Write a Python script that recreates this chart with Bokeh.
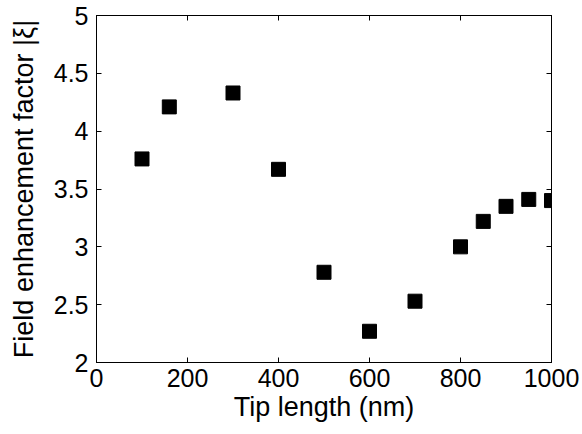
from bokeh.plotting import figure
from bokeh.models import LinearAxis, FixedTicker, Range1d
from bokeh.embed import file_html
from bokeh.resources import INLINE

tip_length = [100, 160, 300, 400, 500, 600, 700, 800, 850, 900, 950, 1000]
enhancement = [3.76, 4.21, 4.33, 3.67, 2.78, 2.27, 2.53, 3.00, 3.22, 3.35, 3.41, 3.40]

x_ticks = [0, 200, 400, 600, 800, 1000]
y_ticks = [2, 2.5, 3, 3.5, 4, 4.5, 5]
y_tick_labels = ["2", "2.5", "3", "3.5", "4", "4.5", "5"]

FONT = "Liberation Sans"

p = figure(frame_width=455, frame_height=347, output_backend="svg", toolbar_location=None,
           x_range=Range1d(0, 1000), y_range=Range1d(2, 5),
           x_axis_location=None, y_axis_location=None,
           min_border_left=96, min_border_top=15, min_border_right=31, min_border_bottom=72)
p.xgrid.visible = False
p.ygrid.visible = False
p.outline_line_color = "black"
p.outline_line_width = 1
p.background_fill_color = "white"
p.border_fill_color = "white"

overrides = {t: l for t, l in zip(y_ticks, y_tick_labels)}

def style(ax, labels=True):
    ax.major_tick_in = 5
    ax.major_tick_out = 0
    ax.minor_tick_in = 0
    ax.minor_tick_out = 0
    ax.axis_line_color = "black"
    ax.axis_line_width = 1
    ax.major_tick_line_color = "black"
    ax.major_label_text_font = FONT
    ax.major_label_text_font_size = "25px"
    ax.major_label_text_color = "black"
    ax.axis_label_text_font = FONT
    ax.axis_label_text_font_size = "27px"
    ax.axis_label_text_font_style = "normal"
    ax.axis_label_text_color = "black"
    ax.major_label_standoff = 6
    if not labels:
        ax.major_label_text_alpha = 0
        ax.major_label_text_font_size = "1px"

xb = LinearAxis(ticker=FixedTicker(ticks=x_ticks), axis_label="Tip length (nm)")
style(xb)
xb.axis_label_standoff = 2
p.add_layout(xb, "below")

yl = LinearAxis(ticker=FixedTicker(ticks=y_ticks), axis_label="Field enhancement factor |ξ|",
                major_label_overrides=overrides)
style(yl)
yl.major_label_standoff = 8
yl.axis_label_standoff = 12
p.add_layout(yl, "left")

xt = LinearAxis(ticker=FixedTicker(ticks=x_ticks))
style(xt, labels=False)
p.add_layout(xt, "above")

yr = LinearAxis(ticker=FixedTicker(ticks=y_ticks))
style(yr, labels=False)
p.add_layout(yr, "right")

p.scatter(tip_length, enhancement, marker="square", size=14, fill_color="black", line_color="black")

open("out.html", "w").write(file_html(p, INLINE))
